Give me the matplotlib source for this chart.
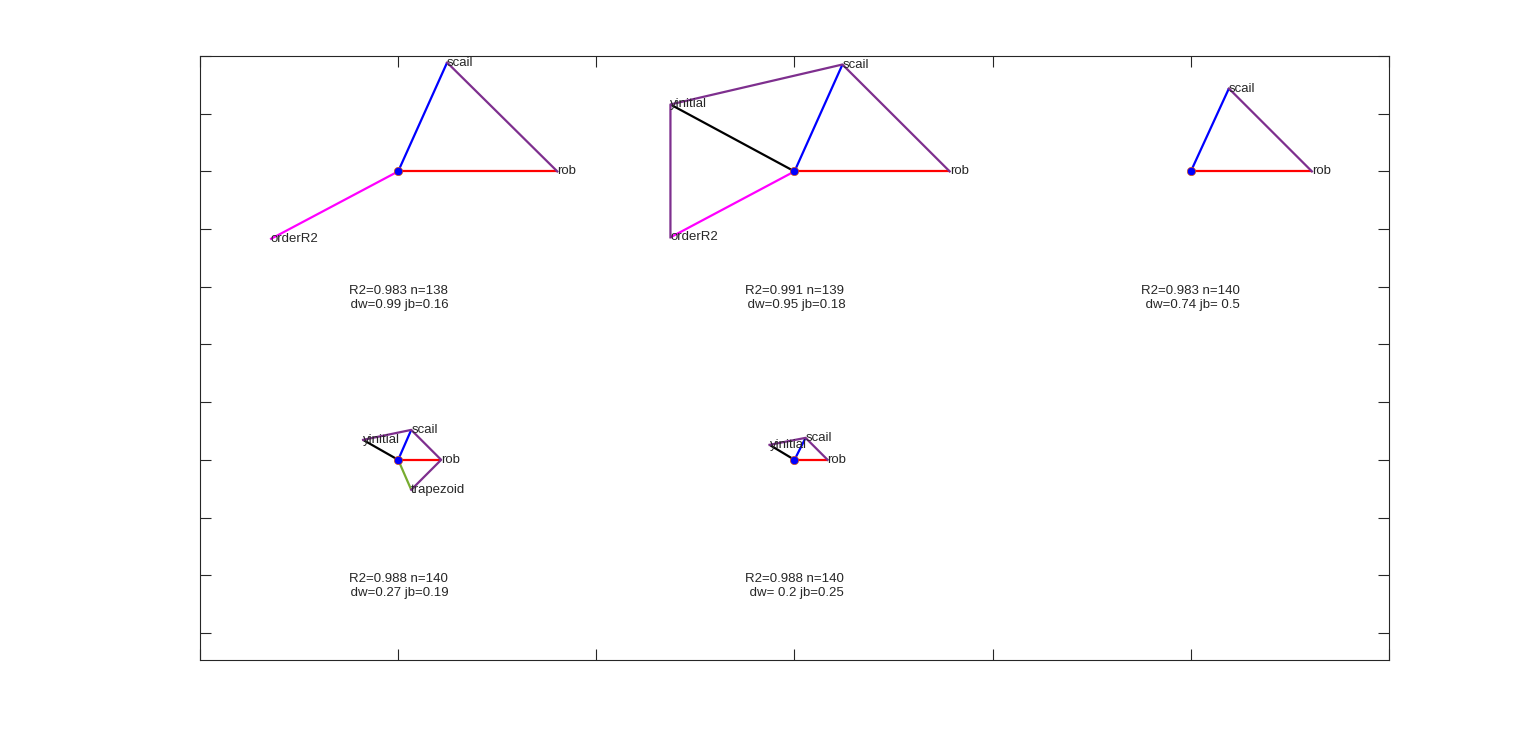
import numpy as np
import matplotlib
matplotlib.use("Agg")
import matplotlib.pyplot as plt

plt.rcParams['font.family'] = ['Liberation Sans', 'DejaVu Sans']

# variables in chain order (consecutive present ones get joined in purple)
var_names = ["trapezoid", "rob", "scail", "yinitial", "orderR2"]
var_colors = ["#77AC30", "#FF0000", "#0000FF", "#000000", "#FF00FF"]

# panel centres
center_x = [1, 3, 5, 1, 3]
center_y = [0, 0, 0, -5, -5]

# offsets of each variable from the panel centre (nan = not in model)
nan = np.nan
dx = [
    [nan, 0.803, 0.247, nan, -0.646],
    [nan, 0.783, 0.242, -0.626, -0.626],
    [nan, 0.611, 0.192, nan, nan],
    [0.066, 0.217, 0.066, -0.177, nan],
    [nan, 0.167, 0.056, -0.126, nan],
]
dy = [
    [nan, 0.0, 1.887, nan, -1.177],
    [nan, 0.0, 1.853, 1.160, -1.143],
    [nan, 0.0, 1.437, nan, nan],
    [-0.519, 0.0, 0.519, 0.346, nan],
    [nan, 0.0, 0.381, 0.260, nan],
]

r2 = ["0.983", "0.991", "0.983", "0.988", "0.988"]
nobs = ["138", "139", "140", "140", "140"]
dw = ["0.99", "0.95", "0.74", "0.27", " 0.2"]
jb = ["0.16", "0.18", " 0.5", "0.19", "0.25"]

purple = "#7E2F8E"
txtc = "#262626"

fig = plt.figure(figsize=(15.36, 7.44), dpi=100)
ax = fig.add_axes([0.1302, 0.1129, 0.7741, 0.8118])

for p in range(len(center_x)):
    cx, cy = center_x[p], center_y[p]
    xs = cx + np.array(dx[p])
    ys = cy + np.array(dy[p])
    # spokes
    for k in range(len(var_names)):
        if np.isnan(xs[k]):
            continue
        ax.plot([cx, xs[k]], [cy, ys[k]], color=var_colors[k], lw=1.6,
                solid_capstyle='butt', zorder=2)
    # chain between neighbouring variables
    ax.plot(xs, ys, color=purple, lw=1.6, zorder=2)
    ax.plot(cx, cy, 'o', ms=6, mfc='#0000FF', mec='#D95319', mew=0.5, zorder=4)
    for k in range(len(var_names)):
        if np.isnan(xs[k]):
            continue
        ax.text(xs[k], ys[k], var_names[k], ha='left', va='center',
                fontsize=9.5, color=txtc, zorder=5)
    ax.text(cx, cy - 2.19, "R2=%s n=%s\n dw=%s jb=%s" % (r2[p], nobs[p], dw[p], jb[p]),
            ha='center', va='center', multialignment='center',
            fontsize=9.5, color=txtc, linespacing=1.22)

ax.set_xlim(0, 6)
ax.set_ylim(-8.47, 2)
ax.set_xticks(np.arange(0, 7))
ax.set_yticks(np.arange(-8, 3))
ax.set_xticklabels([])
ax.set_yticklabels([])
ax.tick_params(direction='in', length=8, width=0.8, color=txtc,
               top=True, right=True)
for s in ax.spines.values():
    s.set_color(txtc)
    s.set_linewidth(0.8)

fig.savefig("out.png", dpi=100)
